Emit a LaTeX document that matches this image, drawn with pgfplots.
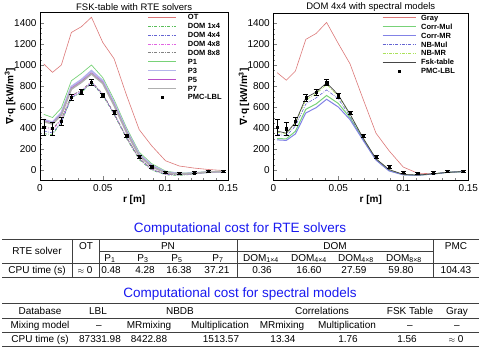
\documentclass[border=0pt]{standalone}
\usepackage{fontspec}
\setmainfont{Liberation Sans}
\newfontfamily\dejavu{DejaVu Sans}
\usepackage{pgfplots}
\pgfplotsset{compat=1.18}
\usepackage{pgfplotstable}

\definecolor{cOT}{RGB}{220,120,120}
\definecolor{cP1}{RGB}{120,210,120}
\definecolor{cP3}{RGB}{180,180,235}
\definecolor{cP5}{RGB}{185,80,200}
\definecolor{cP7}{RGB}{175,175,175}
\definecolor{cD1}{RGB}{90,190,90}
\definecolor{cD4}{RGB}{100,100,210}
\definecolor{cD48}{RGB}{225,100,225}
\definecolor{cD8}{RGB}{130,130,130}
\definecolor{cCM}{RGB}{120,210,120}
\definecolor{cCR}{RGB}{130,130,230}
\definecolor{cNM}{RGB}{100,100,210}
\definecolor{cNR}{RGB}{170,225,90}
\definecolor{cFsk}{RGB}{70,70,70}
\definecolor{ttl}{RGB}{25,25,240}

\pgfplotstableread{
r     OT   P1   P3   P5   P7   D14  D44  D48  D88  PMC  err
0.003 1010 530  480  470  462  345  372  405  420  410  75
0.010 930  500  455  445  438  338  352  382  395  395  60
0.017 1000 590  545  530  522  452  455  478  485  465  35
0.025 1310 850  795  780  770  688  690  704  710  690  30
0.033 1365 920  860  845  835  738  745  754  760  745  28
0.041 1455 1000 945  925  915  828  832  838  842  835  28
0.050 1215 880  850  835  825  712  718  722  726  710  20
0.059 1060 670  640  625  615  528  535  538  541  550  15
0.069 710  400  375  365  355  298  308  308  311  330  15
0.079 385  170  150  140  135  98   108  108  111  130  15
0.089 230  60   45   35   30   -2   5    8    11   30   15
0.100 88   -10  -20  -25  -25  -46  -42  -40  -39  -20  12
0.111 38   -30  -35  -40  -40  -52  -48  -46  -45  -30  10
0.123 18   -25  -30  -32  -32  -40  -36  -35  -34  -25  10
0.134 5    -15  -20  -20  -20  -24  -22  -20  -20  -10  10
0.146 -5   -10  -15  -15  -15  -16  -15  -15  -15  -10  10
}\dataL

\pgfplotstableread{
r     Gray CM   CR   NM   NR   Fsk
0.003 930  300  288  342  362  372
0.010 858  298  283  326  344  352
0.017 945  370  345  420  445  455
0.025 1248 580  545  630  670  690
0.033 1305 632  596  690  730  745
0.041 1410 712  676  765  815  832
0.050 1208 636  602  680  706  718
0.059 1015 500  482  515  530  535
0.069 680  296  286  300  306  308
0.079 352  100  95   104  108  108
0.089 185  -5   -8   0    3    5
0.100 28   -45  -46  -44  -42  -42
0.111 -30  -50  -50  -50  -48  -48
0.123 -36  -38  -38  -38  -36  -36
0.134 -22  -22  -22  -22  -22  -22
0.146 -13  -15  -15  -15  -15  -15
}\dataR

\pgfplotsset{
  myaxis/.style={
    scale only axis, anchor=south west,
    xmin=0, xmax=0.15, ymin=-100, ymax=1500,
    xtick={0,0.05,0.1,0.15}, xticklabels={0,0.05,0.1,0.15},
    ytick={0,200,...,1400},
    minor x tick num=4, minor y tick num=3,
    tick align=inside, xtick pos=left, ytick pos=left,
    major tick length=4pt, minor tick length=2pt,
    scaled ticks=false, /pgf/number format/1000 sep={},
    /pgf/number format/assume math mode=true,
    tick label style={font=\fontsize{10}{12}\selectfont},
    every axis title shift=0pt,
    title style={font=\fontsize{9.5}{11}\selectfont, at={(0.5,1)}, anchor=south, inner sep=1.5pt},
    label style={font=\bfseries\fontsize{10}{12}\selectfont},
    xlabel={r [m]},
    xlabel style={yshift=3pt},
    ylabel={{\dejavu\bfseries ∇}·q [kW/m\textsuperscript{3}]},
    legend cell align=left,
    dashdot/.style={dash pattern=on 3pt off 1.3pt on 0.8pt off 1.3pt},
  },
}

\begin{document}
\begin{tikzpicture}
\useasboundingbox (0,0) rectangle (480pt,-353pt);

% ---------- left axis ----------
\begin{axis}[myaxis,
  at={(40pt,-180.5pt)}, width=188.3pt, height=168pt,
  title={FSK-table with RTE solvers},
  ylabel style={at={(axis description cs:-0.112,0.5)}, anchor=south},
  legend image code/.code={\draw[mark repeat=2,mark phase=2,#1] plot coordinates {(0pt,0pt) (14pt,0pt) (28pt,0pt)};},
  legend style={draw=none, fill=none, at={(0.568,1)}, anchor=north west,
    inner sep=0pt, column sep=11pt, row sep=0pt,
    font=\bfseries\fontsize{7.5}{8}\selectfont,
    nodes={inner xsep=0pt, inner ysep=1.75pt, text height=5.4pt, text depth=0pt}},
]
\addplot[cOT, line width=0.6pt] table[x=r,y=OT]{\dataL};
\addlegendentry{OT}
\addplot[cD1, line width=0.6pt, dashdot] table[x=r,y=D14]{\dataL};
\addlegendentry{DOM 1x4}
\addplot[cD4, line width=0.6pt, dashdot] table[x=r,y=D44]{\dataL};
\addlegendentry{DOM 4x4}
\addplot[cD48, line width=0.6pt, dashdot] table[x=r,y=D48]{\dataL};
\addlegendentry{DOM 4x8}
\addplot[cD8, line width=0.6pt, dashdot] table[x=r,y=D88]{\dataL};
\addlegendentry{DOM 8x8}
\addplot[cP1, line width=0.7pt] table[x=r,y=P1]{\dataL};
\addlegendentry{P1}
\addplot[cP3, line width=1.8pt] table[x=r,y=P3]{\dataL};
\addlegendentry{P3}
\addplot[cP5, line width=0.8pt] table[x=r,y=P5]{\dataL};
\addlegendentry{P5}
\addplot[cP7, line width=1.6pt] table[x=r,y=P7]{\dataL};
\addlegendentry{P7}
\addplot[only marks, mark=square*, mark size=1.1pt, black,
  error bars/.cd, y dir=both, y explicit,
  error bar style={line width=0.5pt,black},
  error mark options={rotate=90, mark size=2.5pt, line width=0.5pt, black}]
  table[x=r,y=PMC,y error=err]{\dataL};
\addlegendentry{PMC-LBL}
\end{axis}

% ---------- right axis ----------
\begin{axis}[myaxis,
  at={(273.3pt,-180.5pt)}, width=195pt, height=167.5pt,
  title={DOM 4x4 with spectral models},
  ylabel style={at={(axis description cs:-0.105,0.5)}, anchor=south},
  legend image code/.code={\draw[mark repeat=2,mark phase=2,#1] plot coordinates {(0pt,0pt) (16.5pt,0pt) (33pt,0pt)};},
  legend style={draw=none, fill=none, at={(0.557,1)}, anchor=north west,
    inner sep=0pt, column sep=5pt, row sep=0pt,
    font=\bfseries\fontsize{7.5}{8}\selectfont,
    nodes={inner xsep=0pt, inner ysep=1.75pt, text height=5.4pt, text depth=0pt}},
]
\addplot[cOT, line width=0.6pt] table[x=r,y=Gray]{\dataR};
\addlegendentry{Gray}
\addplot[cCM, line width=1pt] table[x=r,y=CM]{\dataR};
\addlegendentry{Corr-Mul}
\addplot[cCR, line width=1pt] table[x=r,y=CR]{\dataR};
\addlegendentry{Corr-MR}
\addplot[cNM, line width=0.6pt, dashdot] table[x=r,y=NM]{\dataR};
\addlegendentry{NB-Mul}
\addplot[cNR, line width=0.6pt, dashdot] table[x=r,y=NR]{\dataR};
\addlegendentry{NB-MR}
\addplot[cFsk, line width=0.7pt] table[x=r,y=Fsk]{\dataR};
\addlegendentry{Fsk-table}
\addplot[only marks, mark=square*, mark size=1.1pt, black,
  error bars/.cd, y dir=both, y explicit,
  error bar style={line width=0.5pt,black},
  error mark options={rotate=90, mark size=2.5pt, line width=0.5pt, black}]
  table[x=r,y=PMC,y error=err]{\dataL};
\addlegendentry{PMC-LBL}
\end{axis}

% ---------- tables ----------
\begin{scope}[x=1pt,y=-1pt, font=\fontsize{10}{12}\selectfont,
  lc/.style={line width=0.5pt, black!75},
  t/.style={anchor=base, inner sep=0pt}]
\newcommand\T[3]{\node[t] at (#1,#2+3.6) {#3};}
% Table 1
\node[font=\fontsize{13.5}{15}\selectfont, text=ttl] at (240,229) {Computational cost for RTE solvers};
\draw[lc] (2,239) -- (479,239);
\draw[lc] (99,251.5) -- (433,251.5);
\draw[lc] (2,263.5) -- (479,263.5);
\draw[lc] (2,277) -- (479,277);
\foreach \xx in {72,99,237,433} \draw[lc] (\xx,239) -- (\xx,277);
\T{37}{251}{RTE solver}
\T{86}{246}{OT}
\T{168}{246}{PN}
\T{335}{246}{DOM}
\T{456}{246}{PMC}
\T{110}{257.5}{P\textsubscript{1}}
\T{143}{257.5}{P\textsubscript{3}}
\T{177}{257.5}{P\textsubscript{5}}
\T{218}{257.5}{P\textsubscript{7}}
\T{261}{257.5}{DOM\textsubscript{1×4}}
\T{309}{257.5}{DOM\textsubscript{4×4}}
\T{356}{257.5}{DOM\textsubscript{4×8}}
\T{404}{257.5}{DOM\textsubscript{8×8}}
\T{37}{270}{CPU time (s)}
\T{85}{270}{{\footnotesize$\approx$} 0}
\T{111}{270}{0.48}
\T{145}{270}{4.28}
\T{179}{270}{16.38}
\T{217}{270}{37.21}
\T{262}{270}{0.36}
\T{309}{270}{16.60}
\T{354}{270}{27.59}
\T{401}{270}{59.80}
\T{456}{270}{104.43}
% Table 2
\node[font=\fontsize{13.5}{15}\selectfont, text=ttl] at (240,294) {Computational cost for spectral models};
\draw[lc] (2,303.5) -- (479,303.5);
\draw[lc] (2,318) -- (479,318);
\draw[lc] (2,332) -- (479,332);
\draw[lc] (2,346.5) -- (479,346.5);
\T{40}{311}{Database}
\T{98}{311}{LBL}
\T{180}{311}{NBDB}
\T{322}{311}{Correlations}
\T{410}{311}{FSK Table}
\T{457}{311}{Gray}
\T{40}{325}{Mixing model}
\T{99}{325}{–}
\T{149}{325}{MRmixing}
\T{220}{325}{Multiplication}
\T{282}{325}{MRmixing}
\T{347}{325}{Multiplication}
\T{410}{325}{–}
\T{457}{325}{–}
\T{40}{339}{CPU time (s)}
\T{100}{339}{87331.98}
\T{149}{339}{8422.88}
\T{221}{339}{1513.57}
\T{283}{339}{13.34}
\T{348}{339}{1.76}
\T{407}{339}{1.56}
\T{456}{339}{{\footnotesize$\approx$} 0}
\end{scope}
\end{tikzpicture}
\end{document}
